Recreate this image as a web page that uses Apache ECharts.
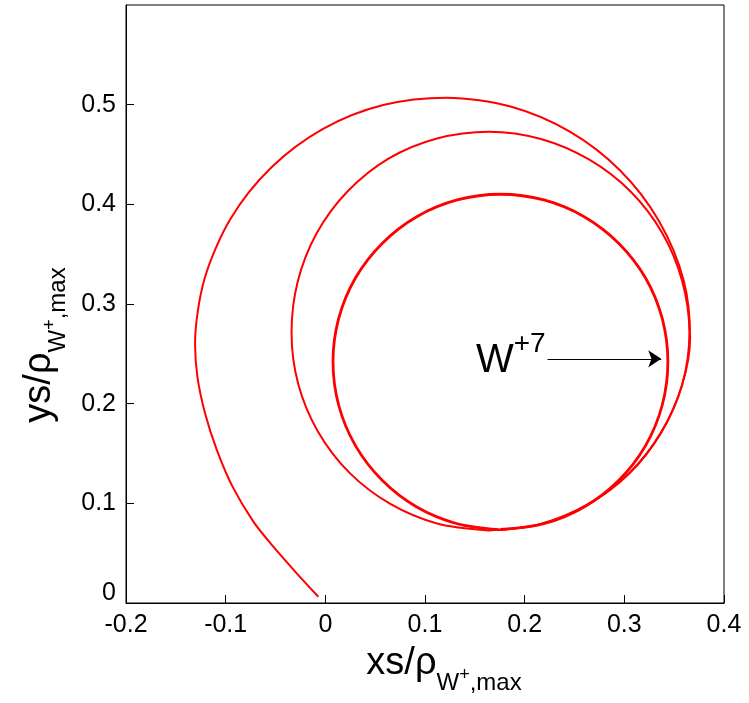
<!DOCTYPE html>
<html>
<head>
<meta charset="utf-8">
<script src="https://cdn.jsdelivr.net/npm/echarts@6/dist/echarts.min.js"></script>
<style>
  html, body { margin: 0; padding: 0; background: #fff; }
  #chart { width: 749px; height: 703px; }
</style>
</head>
<body>
<div id="chart"></div>
<script>
// 第一圈：从起点向左上，绕过顶部，沿右侧下到底部
const loop1X = [-0.0070, -0.0287, -0.0522, -0.0722, -0.0935, -0.1089, -0.1207, -0.1284, -0.1307, -0.1212, -0.0951, -0.0545, -0.0023, 0.0580, 0.1221, 0.1858, 0.2449, 0.2958, 0.3349, 0.3595, 0.3660, 0.3580, 0.3370, 0.3050, 0.2635, 0.2155, 0.1642];
const loop1Y = [0.0063, 0.0298, 0.0565, 0.0816, 0.1175, 0.1536, 0.1905, 0.2272, 0.2600, 0.3253, 0.3855, 0.4367, 0.4757, 0.4996, 0.5070, 0.4981, 0.4731, 0.4339, 0.3830, 0.3237, 0.2660, 0.2190, 0.1712, 0.1301, 0.0989, 0.0790, 0.0728];

// 第二圈
const loop2X = [0.1642, 0.1130, 0.0652, 0.0241, -0.0073, -0.0272, -0.0339, -0.0277, -0.0087, 0.0224, 0.0634, 0.1120, 0.1642, 0.2163, 0.2645, 0.3060, 0.3379, 0.3580, 0.3653, 0.3580, 0.3370, 0.3050, 0.2635, 0.2155, 0.1740];
const loop2Y = [0.0728, 0.0795, 0.0994, 0.1308, 0.1719, 0.2198, 0.2711, 0.3225, 0.3710, 0.4131, 0.4459, 0.4661, 0.4729, 0.4656, 0.4450, 0.4131, 0.3715, 0.3231, 0.2711, 0.2190, 0.1712, 0.1301, 0.0989, 0.0790, 0.0732];

// 最终的闭合圆（W+7）
const loop3X = [0.1740, 0.1323, 0.0917, 0.0570, 0.0302, 0.0134, 0.0077, 0.0134, 0.0302, 0.0570, 0.0917, 0.1323, 0.1757, 0.2193, 0.2597, 0.2945, 0.3213, 0.3380, 0.3437, 0.3380, 0.3213, 0.2945, 0.2597, 0.2193, 0.1757];
const loop3Y = [0.0736, 0.0795, 0.0963, 0.1231, 0.1579, 0.1984, 0.2420, 0.2855, 0.3261, 0.3608, 0.3876, 0.4044, 0.4101, 0.4044, 0.3876, 0.3608, 0.3261, 0.2855, 0.2420, 0.1984, 0.1579, 0.1231, 0.0963, 0.0795, 0.0738];

const xTicks = [-0.2, -0.1, 0, 0.1, 0.2, 0.3, 0.4];
const yTicks = [0, 0.1, 0.2, 0.3, 0.4, 0.5];

// 箭头标注
const arrowFrom = [0.223, 0.245];
const arrowTo = [0.337, 0.245];
const arrowText = '{w|W}{s|+7}';

const FONT = "'Liberation Sans', Arial, Helvetica, sans-serif";
const toPairs = (xs, ys) => xs.map((x, i) => [x, ys[i]]);
const fmt = v => String(+v.toFixed(1));

const chart = echarts.init(document.getElementById('chart'));

const lineSeries = (name, xs, ys, width) => ({
  name: name,
  type: 'line',
  data: toPairs(xs, ys),
  showSymbol: false,
  smooth: 0.3,
  lineStyle: { color: '#ff0000', width: width },
  itemStyle: { color: '#ff0000' },
  z: 3
});

const loop3 = lineSeries('loop3', loop3X, loop3Y, 2.8);
loop3.markLine = {
  silent: true,
  symbol: ['none', 'arrow'],
  symbolSize: 13,
  lineStyle: { color: '#000', width: 1.2, type: 'solid' },
  label: {
    show: true,
    position: 'start',
    distance: 2,
    formatter: arrowText,
    rich: {
      // lineHeight 决定整行高度，行整体居中于箭头
      w: { fontSize: 40, lineHeight: 58, fontFamily: FONT, color: '#000', verticalAlign: 'top', padding: [11, 0, 0, 0] },
      s: { fontSize: 28, lineHeight: 28, fontFamily: FONT, color: '#000', verticalAlign: 'top' }
    }
  },
  data: [[{ coord: arrowFrom }, { coord: arrowTo }]]
};

// 坐标轴标题（带下标）
const titleRich = {
  m: { fontSize: 38, lineHeight: 38, fontFamily: FONT, color: '#000', verticalAlign: 'top' },
  b: { fontSize: 24, lineHeight: 24, fontFamily: FONT, color: '#000', verticalAlign: 'top', padding: [26, 0, 0, 0] },
  p: { fontSize: 18, lineHeight: 18, fontFamily: FONT, color: '#000', verticalAlign: 'top', padding: [21, 0, 0, 0] }
};

const option = {
  animation: false,
  backgroundColor: '#fff',
  grid: {
    left: 126, top: 5, width: 598, height: 598,
    show: true, borderColor: '#000', borderWidth: 1, backgroundColor: 'transparent'
  },
  xAxis: {
    type: 'value',
    min: -0.2, max: 0.4,
    axisLine: { show: true, onZero: false, lineStyle: { color: '#000', width: 1 } },
    axisTick: { show: true, inside: true, length: 8, customValues: xTicks, lineStyle: { color: '#000' } },
    axisLabel: { customValues: xTicks, formatter: fmt, color: '#000', fontSize: 25, fontFamily: FONT, margin: 10 },
    splitLine: { show: false },
    name: '{m0|xs/ρ}{b|W}{p|+}{b|,max}',
    nameLocation: 'middle',
    nameGap: 42,
    nameTextStyle: {
      rich: Object.assign({}, titleRich, {
        m0: Object.assign({}, titleRich.m, { padding: [0, 0, 0, 38] })
      })
    }
  },
  yAxis: {
    type: 'value',
    min: 0, max: 0.6,
    axisLine: { show: true, onZero: false, lineStyle: { color: '#000', width: 1 } },
    axisTick: { show: true, inside: true, length: 8, customValues: yTicks, lineStyle: { color: '#000' } },
    axisLabel: {
      customValues: yTicks,
      formatter: v => (v === 0 ? '{z|0}' : fmt(v)),
      color: '#000', fontSize: 25, fontFamily: FONT, margin: 10,
      rich: { z: { fontSize: 25, fontFamily: FONT, color: '#000', padding: [0, 0, 20, 0] } }
    },
    splitLine: { show: false },
    name: '{m|ys/ρ}{b|W}{p|+}{e|,max}',
    nameLocation: 'middle',
    nameRotate: 90,
    nameGap: 54,
    nameTextStyle: {
      rich: Object.assign({}, titleRich, {
        e: Object.assign({}, titleRich.b, { padding: [26, 82, 0, 0] })
      })
    }
  },
  series: [
    lineSeries('loop1', loop1X, loop1Y, 2),
    lineSeries('loop2', loop2X, loop2Y, 2),
    loop3
  ]
};

chart.setOption(option);
</script>
</body>
</html>
